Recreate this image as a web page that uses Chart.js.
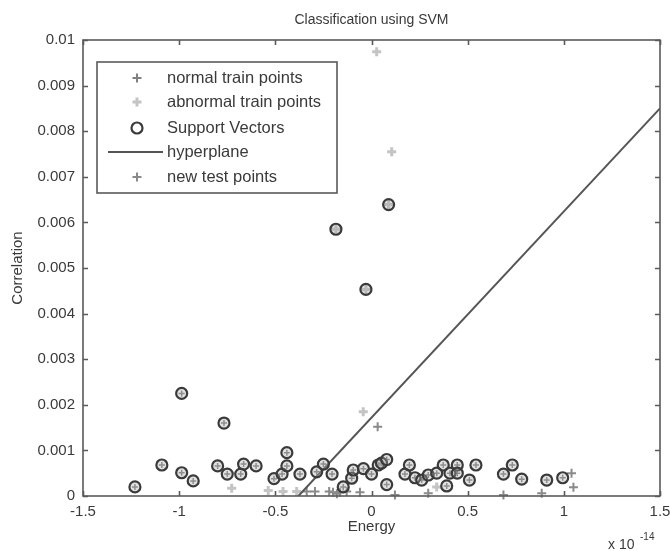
<!DOCTYPE html>
<html>
<head>
<meta charset="utf-8">
<script src="https://cdn.jsdelivr.net/npm/chart.js@4.4.0/dist/chart.umd.min.js"></script>
<style>
html, body { margin: 0; padding: 0; background: #fff; }
#wrap { width: 670px; height: 551px; }
</style>
</head>
<body>
<div id="wrap"><canvas id="svmChart"></canvas></div>
<script>
"use strict"

//energi i enheter av 1e-14, korrelation som den är
const normalX = [-1.23, -1.09, -0.987, -0.987, -0.927, -0.767, -0.80, -0.75, -0.68, -0.665, -0.60, -0.507, -0.465, -0.44, -0.44, -0.372, -0.285, -0.25, -0.205, -0.147, -0.103, -0.095, -0.042, 0.0, 0.035, 0.052, 0.079, 0.079, 0.174, 0.197, 0.226, 0.261, 0.295, 0.339, 0.373, 0.391, 0.408, 0.446, 0.446, 0.509, 0.543, 0.686, 0.732, 0.781, 0.911, 0.994];
const normalY = [0.0002, 0.00068, 0.00225, 0.00051, 0.00033, 0.0016, 0.00066, 0.00048, 0.00048, 0.0007, 0.00066, 0.00038, 0.00048, 0.00066, 0.00095, 0.00048, 0.00053, 0.0007, 0.00048, 0.0002, 0.00039, 0.00057, 0.0006, 0.00048, 0.00068, 0.00072, 0.0008, 0.00025, 0.00048, 0.00068, 0.0004, 0.00035, 0.00046, 0.0005, 0.00068, 0.00022, 0.0005, 0.00068, 0.0005, 0.00035, 0.00068, 0.00048, 0.00068, 0.00037, 0.00035, 0.0004];

const abnormalX = [0.027, 0.105, -0.043, -0.185, -0.029, 0.089, -0.727, -0.537, -0.46, -0.389, 0.339];
const abnormalY = [0.00974, 0.00755, 0.00185, 0.00585, 0.00453, 0.00639, 0.00017, 0.00012, 0.0001, 0.0001, 0.0002];

//support vectors = inringade träningspunkter
const svX = normalX.concat([-0.185, -0.029, 0.089]);
const svY = normalY.concat([0.00585, 0.00453, 0.00639]);

const testX = [0.032, 0.122, 0.295, 0.686, 0.885, 1.04, 1.05, -0.337, -0.294, -0.22, -0.2, -0.18, -0.164, -0.129, -0.06];
const testY = [0.00152, 0.00002, 0.00006, 0.00002, 0.00006, 0.0005, 0.00019, 0.0001, 0.0001, 0.0001, 0.00008, 0.00005, 0.00008, 0.0001, 0.00008];

const hyperX = [-0.38, 1.5];
const hyperY = [0, 0.0085];

const xTicks = [-1.5, -1, -0.5, 0, 0.5, 1, 1.5];
const yTicks = [0, 0.001, 0.002, 0.003, 0.004, 0.005, 0.006, 0.007, 0.008, 0.009, 0.01];

const chartTitle = "Classification using SVM";

function toPoints(xs, ys) {
    return xs.map((x, i) => ({ x: x, y: ys[i] }));
}

const textColor = "#3a3a3a";
const axisColor = "#5a5a5a";
const fontFam = "'Liberation Sans', Arial, sans-serif";

/**
 * Ritar ram, inåtvända ticks, titel, exponent och legend (MATLAB-stil).
 */
const matlabLook = {
    id: "matlabLook",
    afterDatasetsDraw(chart) {
        const { ctx, chartArea: a, scales } = chart;
        ctx.save();

        //ram
        ctx.strokeStyle = axisColor;
        ctx.lineWidth = 1.6;
        ctx.strokeRect(a.left, a.top, a.right - a.left, a.bottom - a.top);

        //ticks inåt på alla sidor
        ctx.beginPath();
        xTicks.forEach(v => {
            const px = Math.round(scales.x.getPixelForValue(v)) + 0.5;
            ctx.moveTo(px, a.bottom); ctx.lineTo(px, a.bottom - 5);
            ctx.moveTo(px, a.top); ctx.lineTo(px, a.top + 5);
        });
        yTicks.forEach(v => {
            const py = Math.round(scales.y.getPixelForValue(v)) + 0.5;
            ctx.moveTo(a.left, py); ctx.lineTo(a.left + 5, py);
            ctx.moveTo(a.right, py); ctx.lineTo(a.right - 5, py);
        });
        ctx.stroke();

        //titel
        ctx.fillStyle = textColor;
        ctx.font = "14px " + fontFam;
        ctx.textAlign = "center";
        ctx.textBaseline = "middle";
        ctx.fillText(chartTitle, (a.left + a.right) / 2, 20);

        //x 10^-14
        ctx.textAlign = "left";
        ctx.font = "14px " + fontFam;
        ctx.fillText("x 10", 608, 545);
        ctx.font = "10px " + fontFam;
        ctx.fillText("-14", 640, 537);

        //legend
        const bx = 97, by = 62, bw = 240, bh = 131;
        ctx.fillStyle = "#fff";
        ctx.fillRect(bx, by, bw, bh);
        ctx.strokeStyle = axisColor;
        ctx.lineWidth = 1.6;
        ctx.strokeRect(bx, by, bw, bh);

        const rows = [78, 102, 128, 152, 177];
        const items = chart.data.datasets.filter(d => d.inLegend).sort((a1, b1) => a1.inLegend - b1.inLegend);
        items.forEach((d, i) => {
            const y = rows[i];
            const mx = 137;
            ctx.strokeStyle = d.borderColor;
            ctx.lineWidth = Math.max(d.borderWidth, 2);
            ctx.beginPath();
            if (d.showLine) {
                ctx.moveTo(108, y); ctx.lineTo(163, y);
            } else if (d.pointStyle === "circle") {
                ctx.arc(mx, y, d.pointRadius, 0, Math.PI * 2);
            } else {
                const r = 4.5;
                ctx.moveTo(mx - r, y); ctx.lineTo(mx + r, y);
                ctx.moveTo(mx, y - r); ctx.lineTo(mx, y + r);
            }
            ctx.stroke();
            ctx.fillStyle = textColor;
            ctx.font = "16.5px " + fontFam;
            ctx.textAlign = "left";
            ctx.textBaseline = "middle";
            ctx.fillText(d.label, 167, y);
        });

        ctx.restore();
    }
};

new Chart(document.getElementById("svmChart"), {
    type: "scatter",
    data: {
        datasets: [
            {
                label: "Support Vectors",
                data: toPoints(svX, svY),
                pointStyle: "circle",
                pointRadius: 5.5,
                borderColor: "#3a3a3a",
                backgroundColor: "rgba(170,170,170,0.35)",
                borderWidth: 2.2,
                order: 1,
                clip: 10,
                inLegend: 3
            },
            {
                label: "normal train points",
                data: toPoints(normalX, normalY),
                pointStyle: "cross",
                pointRadius: 3,
                borderColor: "#808080",
                borderWidth: 1.5,
                order: 3,
                clip: 10,
                inLegend: 1
            },
            {
                label: "abnormal train points",
                data: toPoints(abnormalX, abnormalY),
                pointStyle: "cross",
                pointRadius: 4.5,
                borderColor: "#c4c4c4",
                borderWidth: 3,
                order: 4,
                clip: 10,
                inLegend: 2
            },
            {
                label: "hyperplane",
                type: "line",
                data: toPoints(hyperX, hyperY),
                showLine: true,
                pointRadius: 0,
                borderColor: "#555",
                borderWidth: 2,
                order: 2,
                inLegend: 4
            },
            {
                label: "new test points",
                data: toPoints(testX, testY),
                pointStyle: "cross",
                pointRadius: 4.5,
                borderColor: "#8a8a8a",
                borderWidth: 2,
                order: 5,
                clip: 10,
                inLegend: 5
            }
        ]
    },
    options: {
        responsive: true,
        maintainAspectRatio: false,
        animation: false,
        layout: {
            padding: { left: 0, right: 10, top: 40, bottom: 0 }
        },
        plugins: {
            legend: { display: false },
            title: { display: false },
            tooltip: { enabled: false }
        },
        scales: {
            x: {
                type: "linear",
                min: -1.5,
                max: 1.5,
                afterFit: s => { s.height = 55; s.paddingLeft = 0; s.paddingRight = 0; },
                afterBuildTicks: s => { s.ticks = xTicks.map(v => ({ value: v })); },
                grid: { display: false, drawTicks: false },
                border: { display: false },
                ticks: {
                    padding: 7,
                    color: textColor,
                    font: { family: fontFam, size: 15 },
                    callback: v => String(v)
                },
                title: {
                    display: true,
                    text: "Energy",
                    color: textColor,
                    font: { family: fontFam, size: 15 },
                    padding: { top: 0, bottom: 15 }
                }
            },
            y: {
                type: "linear",
                min: 0,
                max: 0.01,
                afterFit: s => { s.width = 83; s.paddingTop = 0; s.paddingBottom = 0; },
                afterBuildTicks: s => { s.ticks = yTicks.map(v => ({ value: v })); },
                grid: { display: false, drawTicks: false },
                border: { display: false },
                ticks: {
                    padding: 8,
                    color: textColor,
                    font: { family: fontFam, size: 15 },
                    callback: v => String(+v.toFixed(3))
                },
                title: {
                    display: true,
                    text: "Correlation",
                    color: textColor,
                    font: { family: fontFam, size: 15 },
                    padding: { top: 9, bottom: 0 }
                }
            }
        }
    },
    plugins: [matlabLook]
});
</script>
</body>
</html>
